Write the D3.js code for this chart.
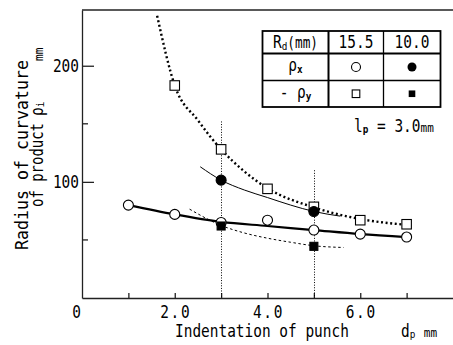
<!DOCTYPE html>
<html>
<head>
<meta charset="utf-8">
<script src="https://cdn.jsdelivr.net/npm/d3@7"></script>
<style>
  html, body { margin: 0; padding: 0; background: #fff; }
  text { font-family: "DejaVu Sans Mono", "Liberation Mono", monospace; fill: #000; }
</style>
</head>
<body>
<div class="my-graph"></div>
<script>
// measured points (indentation dp in mm, radius in mm)
const dpOpen = [1, 2, 3, 4, 5, 6, 7]
const rhoX155 = [80, 72, 65, 67, 58.5, 55, 52.5]
const dpOpenSq = [2, 3, 4, 5, 6, 7]
const negRhoY155 = [183, 128, 94, 78.5, 67, 63.5]
const dpFilled = [3, 5]
const rhoX100 = [101.5, 74.5]
const negRhoY100 = [62, 44.5]

// hand-drawn fitting curves
const fitRhoX155X = [1, 2, 3, 4, 5, 6, 7]
const fitRhoX155Y = [80, 72, 65.5, 62, 58.5, 55, 52.5]
const fitRhoY155X = [1.62, 2, 2.5, 3, 3.5, 4, 5, 6, 7]
const fitRhoY155Y = [243, 183, 153, 128, 109, 94.5, 78, 68, 63]
const fitRhoX100X = [2.55, 3, 3.5, 4, 4.5, 5, 5.57]
const fitRhoX100Y = [113, 101.5, 93, 86.5, 80, 74.5, 70.5]
const fitRhoY100X = [2.32, 3, 3.5, 4, 4.5, 5, 5.64]
const fitRhoY100Y = [76.5, 62.5, 56, 51.5, 48, 45, 43.5]

// vertical guide lines
const guideX = [3, 5]
const guideTop = [152, 110]

const xTicks = [1, 2, 3, 4, 5, 6, 7]
const xLabels = [2, 4, 6]
const yMajor = [100, 200]
const yMinor = [50, 150]

const width = 453
const height = 345
const margin = { top: 10, right: 0, bottom: 47, left: 82 }

const x = d3.scaleLinear().domain([0, 8]).range([margin.left, width - margin.right])
const y = d3.scaleLinear().domain([0, 248]).range([height - margin.bottom, margin.top])

const svg = d3.select('.my-graph').append('svg')
  .attr('width', width)
  .attr('height', height)

// text helper: monospace squeezed a bit to look like the original gothic font
const txt = (sel, px, py, s, o = {}) => {
  let tr = `translate(${px},${py})`
  if (o.rot) tr += ' rotate(-90)'
  tr += ` scale(${o.sx || 0.85},1)`
  return sel.append('text')
    .attr('transform', tr)
    .attr('text-anchor', o.anchor || 'start')
    .attr('font-size', o.size || 17)
    .text(s)
}

// frame: top border + axes
svg.append('line')
  .attr('x1', x(0)).attr('x2', x(8))
  .attr('y1', y(248)).attr('y2', y(248))
  .attr('stroke', '#222').attr('stroke-width', 1.4)

const xAxis = svg.append('g')
  .attr('transform', `translate(0,${y(0)})`)
  .call(d3.axisBottom(x).tickValues(xTicks).tickSizeInner(-5).tickSizeOuter(0).tickFormat(''))
xAxis.selectAll('path, line').attr('stroke', '#222').attr('stroke-width', 1.3)

const yAxis = svg.append('g')
  .attr('transform', `translate(${x(0)},0)`)
  .call(d3.axisLeft(y).tickValues(yMajor).tickSizeInner(-12).tickSizeOuter(0).tickFormat(''))
yAxis.selectAll('path, line').attr('stroke', '#222').attr('stroke-width', 1.3)

svg.selectAll('.minor')
  .data(yMinor)
  .enter().append('line')
  .attr('class', 'minor')
  .attr('x1', x(0)).attr('x2', x(0) + 6)
  .attr('y1', d => y(d)).attr('y2', d => y(d))
  .attr('stroke', '#222').attr('stroke-width', 1.3)

// tick labels
yMajor.forEach(v => txt(svg, x(0) - 3, y(v) + 6, String(v), { anchor: 'end' }))
txt(svg, x(0) - 1, y(0) + 20, '0', { anchor: 'end' })
xLabels.forEach(v => txt(svg, x(v) + 1, y(0) + 20, v.toFixed(1), { anchor: 'middle' }).attr('letter-spacing', 2))

// axis titles
txt(svg, 175, 337, 'Indentation of punch', {})
const dpT = svg.append('text').attr('transform', 'translate(401,337) scale(0.85,1)').attr('font-size', 17)
dpT.append('tspan').text('d')
dpT.append('tspan').attr('font-size', 11).attr('dy', 1).text('p')
dpT.append('tspan').attr('font-size', 13).attr('dy', -1).attr('dx', 10).text('mm')

txt(svg, 28, 250, 'Radius of curvature', { rot: true, sx: 1 }).attr('textLength', 190).attr('lengthAdjust', 'spacingAndGlyphs')
txt(svg, 43, 207, 'of product', { rot: true, sx: 1 }).attr('textLength', 84).attr('lengthAdjust', 'spacingAndGlyphs')
const rhoT = svg.append('text').attr('transform', 'translate(43,116) rotate(-90) scale(0.85,1)').attr('font-size', 17)
rhoT.append('tspan').text('ρ')
rhoT.append('tspan').attr('font-size', 11).attr('dy', 1).text('i')
txt(svg, 43, 61, 'mm', { rot: true, size: 13 })

// guide lines (dotted)
svg.selectAll('.guide')
  .data(guideX)
  .enter().append('line')
  .attr('class', 'guide')
  .attr('x1', d => Math.round(x(d)) + 0.5).attr('x2', d => Math.round(x(d)) + 0.5)
  .attr('y1', (d, i) => y(guideTop[i])).attr('y2', y(0))
  .attr('stroke', '#000').attr('stroke-width', 1)
  .attr('stroke-dasharray', '1,1.6')

// fitting curves
const line = d3.line()
  .x(d => x(d[0]))
  .y(d => y(d[1]))
  .curve(d3.curveMonotoneX)

const curves = [
  { xs: fitRhoX155X, ys: fitRhoX155Y, w: 2.2, dash: null },
  { xs: fitRhoY155X, ys: fitRhoY155Y, w: 2.4, dash: '2,2.6' },
  { xs: fitRhoX100X, ys: fitRhoX100Y, w: 1, dash: null },
  { xs: fitRhoY100X, ys: fitRhoY100Y, w: 1, dash: '2.5,2.5' }
]
curves.forEach(c => {
  svg.append('path')
    .datum(d3.zip(c.xs, c.ys))
    .attr('fill', 'none')
    .attr('stroke', '#000')
    .attr('stroke-width', c.w)
    .attr('stroke-dasharray', c.dash)
    .attr('d', line)
})

// markers
const circles = (data, filled, r) => svg.append('g').selectAll('circle')
  .data(data)
  .enter().append('circle')
  .attr('cx', d => x(d[0]))
  .attr('cy', d => y(d[1]))
  .attr('r', r)
  .attr('fill', filled ? '#000' : '#fff')
  .attr('stroke', '#000')
  .attr('stroke-width', 1.1)

const squares = (data, filled, s) => svg.append('g').selectAll('rect')
  .data(data)
  .enter().append('rect')
  .attr('x', d => x(d[0]) - s / 2)
  .attr('y', d => y(d[1]) - s / 2)
  .attr('width', s).attr('height', s)
  .attr('fill', filled ? '#000' : '#fff')
  .attr('stroke', '#000')
  .attr('stroke-width', 1.1)

circles(d3.zip(dpOpen, rhoX155), false, 5)
squares(d3.zip(dpOpenSq, negRhoY155), false, 9.5)
circles(d3.zip(dpFilled, rhoX100), true, 5)
squares(d3.zip(dpFilled, negRhoY100), true, 8)

// legend table
const tb = { left: 262.5, top: 31 }
const colW = [66, 55, 57]
const rowH = [22.5, 27, 26.5]
const colX = [0, ...d3.cumsum(colW)].map(v => tb.left + v)
const rowY = [0, ...d3.cumsum(rowH)].map(v => tb.top + v)
const cx = i => (colX[i] + colX[i + 1]) / 2
const cy = i => (rowY[i] + rowY[i + 1]) / 2

const lg = svg.append('g')
lg.append('rect')
  .attr('x', colX[0]).attr('y', rowY[0])
  .attr('width', colX[3] - colX[0]).attr('height', rowY[3] - rowY[0])
  .attr('fill', '#fff').attr('stroke', '#000').attr('stroke-width', 1.8)
colX.slice(1, 3).forEach((cxv, i) => lg.append('line')
  .attr('x1', cxv).attr('x2', cxv).attr('y1', rowY[0]).attr('y2', rowY[3])
  .attr('stroke', '#000').attr('stroke-width', i === 0 ? 2 : 1.3))
rowY.slice(1, 3).forEach((ryv, i) => lg.append('line')
  .attr('x1', colX[0]).attr('x2', colX[3]).attr('y1', ryv).attr('y2', ryv)
  .attr('stroke', '#000').attr('stroke-width', i === 0 ? 2 : 1.3))

const rdT = lg.append('text').attr('transform', `translate(${cx(0)},${cy(0) + 6}) scale(0.85,1)`)
  .attr('text-anchor', 'middle').attr('font-size', 17)
rdT.append('tspan').text('R')
rdT.append('tspan').attr('font-size', 11).attr('dy', 2).text('d')
rdT.append('tspan').attr('font-size', 15).attr('dy', -2).text('(mm)')
txt(lg, cx(1), cy(0) + 6, '15.5', { anchor: 'middle' })
txt(lg, cx(2), cy(0) + 6, '10.0', { anchor: 'middle' })

const pxT = lg.append('text').attr('transform', `translate(${cx(0)},${cy(1) + 4}) scale(0.85,1)`)
  .attr('text-anchor', 'middle').attr('font-size', 17)
pxT.append('tspan').text('ρ')
pxT.append('tspan').attr('font-size', 11).attr('dy', 2).attr('font-weight', 'bold').text('x')
const pyT = lg.append('text').attr('transform', `translate(${cx(0)},${cy(2) + 4}) scale(0.85,1)`)
  .attr('text-anchor', 'middle').attr('font-size', 17)
pyT.append('tspan').text('- ρ')
pyT.append('tspan').attr('font-size', 11).attr('dy', 2).attr('font-weight', 'bold').text('y')

lg.append('circle').attr('cx', cx(1)).attr('cy', cy(1)).attr('r', 4.5)
  .attr('fill', '#fff').attr('stroke', '#000').attr('stroke-width', 1.1)
lg.append('circle').attr('cx', cx(2)).attr('cy', cy(1)).attr('r', 4.5)
  .attr('fill', '#000')
lg.append('rect').attr('x', cx(1) - 3.8).attr('y', cy(2) - 3.8).attr('width', 7.6).attr('height', 7.6)
  .attr('fill', '#fff').attr('stroke', '#000').attr('stroke-width', 1.1)
lg.append('rect').attr('x', cx(2) - 3.3).attr('y', cy(2) - 3.3).attr('width', 6.6).attr('height', 6.6)
  .attr('fill', '#000')

// punch length note
const lpT = svg.append('text').attr('transform', 'translate(354,132) scale(0.85,1)').attr('font-size', 17)
lpT.append('tspan').text('l')
lpT.append('tspan').attr('font-size', 11).attr('dy', 1).attr('font-weight', 'bold').text('p')
lpT.append('tspan').attr('dy', -1).text(' = 3.0')
lpT.append('tspan').attr('font-size', 13).text('mm')
</script>
</body>
</html>
